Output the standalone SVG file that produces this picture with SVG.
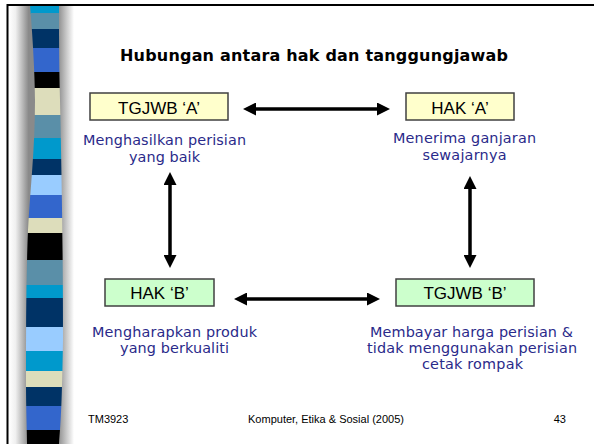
<svg xmlns="http://www.w3.org/2000/svg" width="594" height="444" viewBox="0 0 594 444">
<style>
.title{font-family:"DejaVu Sans",Verdana,sans-serif;font-weight:bold;font-size:16px;fill:#000;text-anchor:middle}
.box{stroke:#404040;stroke-width:1.5}
.boxtxt{font-family:"Liberation Sans",Arial,sans-serif;font-size:17px;fill:#000;text-anchor:middle}
.desc{font-family:"DejaVu Sans",Verdana,sans-serif;font-size:14.4px;fill:#2A2A8A;text-anchor:middle}
.foot{font-family:"Liberation Sans",Arial,sans-serif;font-size:11px;fill:#000}
.arrow{stroke:#000;stroke-width:3.5;fill:none;marker-start:url(#ah);marker-end:url(#ah)}
</style>
<defs>
<marker id="ah" viewBox="0 0 13 13" refX="9" refY="6.5" markerWidth="13" markerHeight="13" markerUnits="userSpaceOnUse" orient="auto-start-reverse">
<path d="M0,0 L13,6.5 L0,13 Z" fill="#000"/>
</marker>
<linearGradient id="shade" x1="0" x2="1" y1="0" y2="0">
<stop offset="0" stop-color="#ffffff"/>
<stop offset="0.1" stop-color="#f0f0f0"/>
<stop offset="0.3" stop-color="#8a8a8a"/>
<stop offset="0.75" stop-color="#8a8a8a"/>
<stop offset="1" stop-color="#ffffff"/>
</linearGradient>
<clipPath id="col">
<path d="M30,5 C33,40 35,80 35,100 C35,150 30,190 28,230 C26,280 26,330 26,380 C26,410 27,430 27,444 L59,444 C61,420 62,400 63,340 C63,260 62,190 60,100 C59,60 59,30 59,5 Z"/>
</clipPath>
</defs>
<rect x="0" y="0" width="594" height="444" fill="#ffffff"/>
<g id="sidebar">
<rect x="9" y="6" width="65" height="438" fill="url(#shade)"/>
<g clip-path="url(#col)">
<rect x="20" y="5" width="50" height="9" fill="#0099CC"/>
<rect x="20" y="13" width="50" height="16" fill="#5A8FA8"/>
<rect x="20" y="29" width="50" height="19" fill="#003366"/>
<rect x="20" y="48" width="50" height="24" fill="#3366CC"/>
<rect x="20" y="72" width="50" height="16" fill="#000000"/>
<rect x="20" y="88" width="50" height="27" fill="#DDDDBB"/>
<rect x="20" y="115" width="50" height="23" fill="#5A8FA8"/>
<rect x="20" y="138" width="50" height="21" fill="#0099CC"/>
<rect x="20" y="159" width="50" height="16" fill="#003366"/>
<rect x="20" y="175" width="50" height="20" fill="#99CCFF"/>
<rect x="20" y="195" width="50" height="23" fill="#3366CC"/>
<rect x="20" y="218" width="50" height="15" fill="#DDDDBB"/>
<rect x="20" y="233" width="50" height="27" fill="#000000"/>
<rect x="20" y="260" width="50" height="25" fill="#5A8FA8"/>
<rect x="20" y="285" width="50" height="13" fill="#0099CC"/>
<rect x="20" y="298" width="50" height="29" fill="#003366"/>
<rect x="20" y="327" width="50" height="24" fill="#99CCFF"/>
<rect x="20" y="351" width="50" height="20" fill="#0099CC"/>
<rect x="20" y="371" width="50" height="16" fill="#DDDDBB"/>
<rect x="20" y="387" width="50" height="19" fill="#003366"/>
<rect x="20" y="406" width="50" height="24" fill="#3366CC"/>
<rect x="20" y="430" width="50" height="14" fill="#000000"/>
</g>
</g>
<path d="M7.5,444 L7.5,5 L594,5" fill="none" stroke="#000" stroke-width="2"/>
<text class="title" x="314" y="61" textLength="388" lengthAdjust="spacing">Hubungan antara hak dan tanggungjawab</text>
<g id="connectors">
<line class="arrow" x1="247" y1="109" x2="386" y2="109"/>
<line class="arrow" x1="238" y1="299" x2="376" y2="299"/>
<line class="arrow" x1="170" y1="176" x2="170" y2="264"/>
<line class="arrow" x1="470" y1="180" x2="470" y2="264"/>
</g>
<g id="tgjwbA">
<rect class="box" x="90" y="93" width="138" height="27" fill="#FFFFCC"/>
<text class="boxtxt" x="159" y="114">TGJWB ‘A’</text>
<text class="desc" x="164.5" y="145" textLength="163" lengthAdjust="spacing">Menghasilkan perisian</text>
<text class="desc" x="164.5" y="162" textLength="71" lengthAdjust="spacing">yang baik</text>
</g>
<g id="hakA">
<rect class="box" x="406" y="93" width="108" height="27" fill="#FFFFCC"/>
<text class="boxtxt" x="460" y="114">HAK ‘A’</text>
<text class="desc" x="464.5" y="143" textLength="143" lengthAdjust="spacing">Menerima ganjaran</text>
<text class="desc" x="464.5" y="160" textLength="84" lengthAdjust="spacing">sewajarnya</text>
</g>
<g id="hakB">
<rect class="box" x="105" y="279" width="109" height="27" fill="#CCFFCC"/>
<text class="boxtxt" x="159.5" y="299">HAK ‘B’</text>
<text class="desc" x="174.5" y="337" textLength="165" lengthAdjust="spacing">Mengharapkan produk</text>
<text class="desc" x="174.5" y="353" textLength="109" lengthAdjust="spacing">yang berkualiti</text>
</g>
<g id="tgjwbB">
<rect class="box" x="396" y="279" width="138" height="27" fill="#CCFFCC"/>
<text class="boxtxt" x="465" y="299">TGJWB ‘B’</text>
<text class="desc" x="471.5" y="337" textLength="203" lengthAdjust="spacing">Membayar harga perisian &amp;</text>
<text class="desc" x="472" y="353" textLength="210" lengthAdjust="spacing">tidak menggunakan perisian</text>
<text class="desc" x="472.5" y="369" textLength="101" lengthAdjust="spacing">cetak rompak</text>
</g>
<g id="footer">
<text class="foot" x="88" y="423">TM3923</text>
<text class="foot" x="326" y="423" text-anchor="middle">Komputer, Etika &amp; Sosial (2005)</text>
<text class="foot" x="566" y="423" text-anchor="end">43</text>
</g>
</svg>
